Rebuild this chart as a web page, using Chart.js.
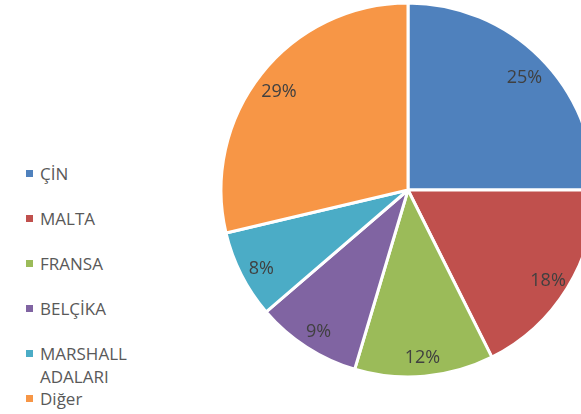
<!DOCTYPE html>
<html>
<head>
<meta charset="utf-8">
<script src="https://cdn.jsdelivr.net/npm/chart.js@4"></script>
<style>
    html, body { margin: 0; padding: 0; background: #fff; overflow: hidden; width: 581px; height: 414px; }
    #pieBox { position: absolute; left: 208px; top: -10px; width: 400px; height: 400px; }
    #legend { position: absolute; left: 26px; top: 0; font-family: 'Open Sans', sans-serif; font-size: 17px; color: #595959; }
    .item { position: absolute; left: 0; display: flex; align-items: flex-start; line-height: 23px; white-space: nowrap; }
    .swatch { width: 7px; height: 7px; margin-top: 8px; margin-right: 7px; flex: none; }
    .text { width: 100px; white-space: normal; }
</style>
</head>
<body>
<div id="legend"></div>
<div id="pieBox"><canvas id="pieChart"></canvas></div>
<script>
// Ülke payları (pasta dilimleri, saat yönünde tepeden başlayarak)
const labels = ['ÇİN', 'MALTA', 'FRANSA', 'BELÇİKA', 'MARSHALL ADALARI', 'Diğer'];
const shares = [25.0, 17.6, 12.0, 9.1, 7.6, 28.7];
const colors = ['#4F81BD', '#C0504D', '#9BBB59', '#8064A2', '#4BACC6', '#F79646'];

document.addEventListener('DOMContentLoaded', () => {
    buildLegend();
    renderPie();
});

function buildLegend() {
    const legend = document.getElementById('legend');
    labels.forEach((label, i) => {
        const item = document.createElement('div');
        item.className = 'item';
        item.style.top = (162 + i * 45) + 'px';
        item.innerHTML = `<span class="swatch" style="background:${colors[i]}"></span><span class="text">${label}</span>`;
        legend.appendChild(item);
    });
}

// Yüzde etiketlerini dilimlerin içine yaz
const percentLabels = {
    id: 'percentLabels',
    afterDatasetsDraw(chart) {
        const ctx = chart.ctx;
        const meta = chart.getDatasetMeta(0);
        const data = chart.data.datasets[0].data;
        const total = data.reduce((a, b) => a + b, 0);
        ctx.save();
        ctx.font = '18px "Open Sans", sans-serif';
        ctx.fillStyle = '#404040';
        ctx.textAlign = 'center';
        ctx.textBaseline = 'middle';
        meta.data.forEach((arc, i) => {
            const p = arc.getProps(['x', 'y', 'startAngle', 'endAngle', 'outerRadius'], true);
            const mid = (p.startAngle + p.endAngle) / 2;
            const r = p.outerRadius * 0.88;
            const pct = Math.round(data[i] / total * 100) + '%';
            ctx.fillText(pct, p.x + Math.cos(mid) * r, p.y + Math.sin(mid) * r + 4);
        });
        ctx.restore();
    }
};

function renderPie() {
    const ctx = document.getElementById('pieChart').getContext('2d');
    new Chart(ctx, {
        type: 'pie',
        data: {
            labels: labels,
            datasets: [{
                data: shares,
                backgroundColor: colors,
                borderColor: '#ffffff',
                borderWidth: 3
            }]
        },
        options: {
            responsive: true,
            maintainAspectRatio: false,
            animation: false,
            radius: 187,
            layout: { padding: 0 },
            plugins: {
                legend: { display: false },
                tooltip: { enabled: false }
            }
        },
        plugins: [percentLabels]
    });
}
</script>
</body>
</html>
